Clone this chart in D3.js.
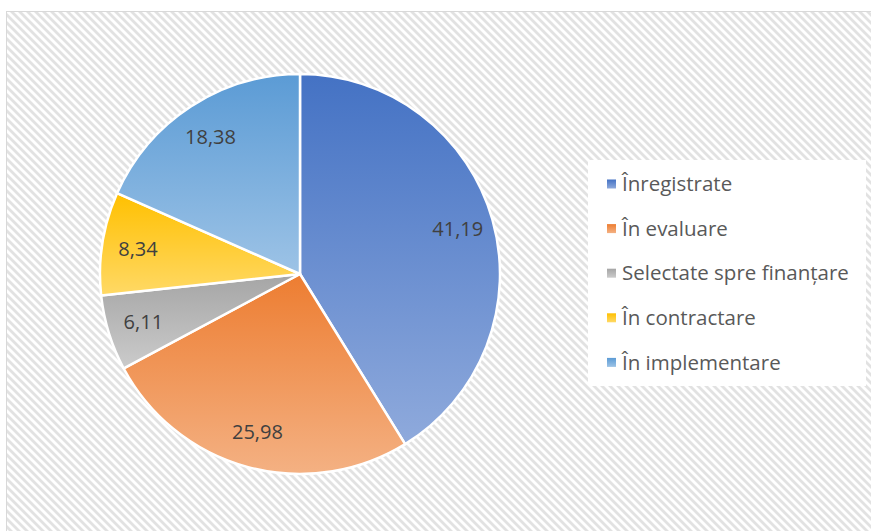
<!DOCTYPE html>
<html>
<head>
<meta charset="utf-8">
<script src="https://cdn.jsdelivr.net/npm/d3@7"></script>
<style>
  body { margin: 0; background: #fff; }
  text { font-family: "Open Sans", "Noto Sans", sans-serif; }
</style>
</head>
<body>
<div id="chart"></div>
<script>
var categories = ["Înregistrate", "În evaluare", "Selectate spre finanțare", "În contractare", "În implementare"];
var values = [41.19, 25.98, 6.11, 8.34, 18.38];
var topColors = ["#4472c4", "#ed7d31", "#a5a5a5", "#ffc000", "#5b9bd5"];
var bottomColors = ["#8faadc", "#f4b183", "#cbcbcb", "#ffd966", "#9dc3e6"];

var width = 871, height = 531;
var cx = 300, cy = 274, radius = 200;

var svg = d3.select("#chart")
    .append("svg")
        .attr("width", width)
        .attr("height", height);

var defs = svg.append("defs");

// hatched background, like excel's wide downward diagonal
var pat = defs.append("pattern")
    .attr("id", "hatch")
    .attr("patternUnits", "userSpaceOnUse")
    .attr("width", 8)
    .attr("height", 8);
pat.append("rect").attr("width", 8).attr("height", 8).attr("fill", "#fff");
pat.append("path")
    .attr("d", "M-2,6 L2,10 M0,0 L8,8 M6,-2 L10,2")
    .attr("stroke", "#e2e2e2")
    .attr("stroke-width", 2.8);

categories.forEach(function(c, i) {
    var g = defs.append("linearGradient")
        .attr("id", "grad" + i)
        .attr("x1", 0).attr("y1", 0)
        .attr("x2", 0).attr("y2", 1);
    g.append("stop").attr("offset", "0%").attr("stop-color", topColors[i]);
    g.append("stop").attr("offset", "100%").attr("stop-color", bottomColors[i]);
});

svg.append("rect")
    .attr("x", 6.5)
    .attr("y", 11.5)
    .attr("width", 880)
    .attr("height", 540)
    .attr("fill", "url(#hatch)")
    .attr("stroke", "#d9d9d9");

var pie = d3.pie().sort(null).value(function(d) { return d; });
var arcs = pie(values);

var arc = d3.arc().innerRadius(0).outerRadius(radius);
var labelArc = d3.arc().innerRadius(radius * 0.82).outerRadius(radius * 0.82);

var pieG = svg.append("g")
    .attr("transform", "translate(" + cx + "," + cy + ")");

pieG.selectAll("path")
    .data(arcs)
    .enter()
    .append("path")
    .attr("d", arc)
    .attr("fill", function(d, i) { return "url(#grad" + i + ")"; })
    .attr("stroke", "#fff")
    .attr("stroke-width", 2.5)
    .attr("stroke-linejoin", "round");

pieG.selectAll("text.lbl")
    .data(arcs)
    .enter()
    .append("text")
    .attr("class", "lbl")
    .attr("transform", function(d) { return "translate(" + labelArc.centroid(d) + ")"; })
    .attr("text-anchor", "middle")
    .attr("dy", "0.35em")
    .style("font-size", "20px")
    .style("fill", "#404040")
    .text(function(d) { return d.data.toFixed(2).replace(".", ","); });

// legend
svg.append("rect")
    .attr("x", 588)
    .attr("y", 160)
    .attr("width", 278)
    .attr("height", 226)
    .attr("fill", "#fff");

var legend = svg.selectAll("g.leg")
    .data(categories)
    .enter()
    .append("g")
    .attr("class", "leg")
    .attr("transform", function(d, i) { return "translate(607," + (184 + i * 44.6) + ")"; });

legend.append("rect")
    .attr("x", 0)
    .attr("y", -4.5)
    .attr("width", 9)
    .attr("height", 9)
    .attr("fill", function(d, i) { return "url(#grad" + i + ")"; });

legend.append("text")
    .attr("x", 15)
    .attr("dy", "0.35em")
    .style("font-size", "20.5px")
    .style("fill", "#595959")
    .text(function(d) { return d; });
</script>
</body>
</html>
